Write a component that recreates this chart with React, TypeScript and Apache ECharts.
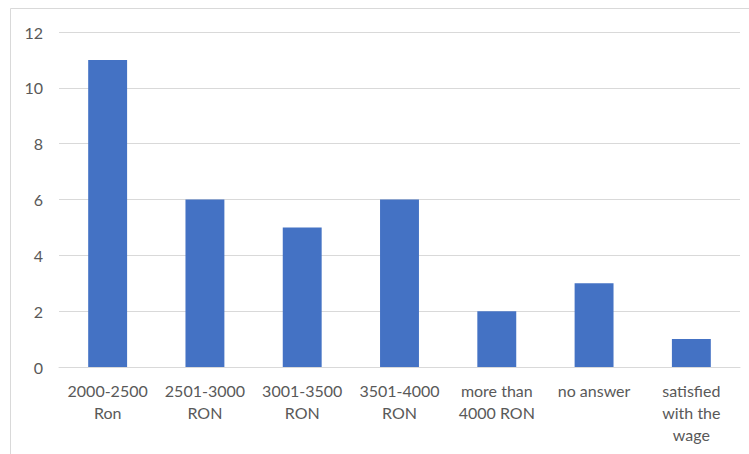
import React, { useEffect, useRef } from "react";
import * as echarts from "echarts";

const categories = [
  "2000-2500\nRon",
  "2501-3000\nRON",
  "3001-3500\nRON",
  "3501-4000\nRON",
  "more than\n4000 RON",
  "no answer",
  "satisfied\nwith the\nwage",
];
const values = [11, 6, 5, 6, 2, 3, 1];
const yMin = 0;
const yMax = 12;
const yStep = 2;

export default function App() {
  const ref = useRef<HTMLDivElement>(null);
  useEffect(() => {
    if (!ref.current) return;
    const chart = echarts.init(ref.current, undefined, { renderer: "svg" });
    const font = "Lato, 'Open Sans', sans-serif";
    chart.setOption({
      animation: false,
      backgroundColor: "#ffffff",
      graphic: [
        {
          type: "rect",
          shape: { x: 10.5, y: 8.5, width: 780, height: 480 },
          style: { fill: "none", stroke: "#d9d9d9", lineWidth: 1 },
          silent: true,
        },
      ],
      grid: { left: 59, right: 9, top: 32, bottom: 87, containLabel: false },
      xAxis: {
        type: "category",
        data: categories,
        axisTick: { show: false },
        axisLine: { show: true, lineStyle: { color: "#d9d9d9", width: 1 } },
        axisLabel: {
          color: "#595959",
          fontFamily: font,
          fontSize: 16,
          lineHeight: 22,
          margin: 12,
          interval: 0,
        },
      },
      yAxis: {
        type: "value",
        min: yMin,
        max: yMax,
        interval: yStep,
        axisLine: { show: false },
        axisTick: { show: false },
        splitLine: { lineStyle: { color: "#d9d9d9", width: 1 } },
        axisLabel: {
          color: "#595959",
          fontFamily: font,
          fontSize: 16,
          margin: 16,
        },
      },
      series: [
        {
          type: "bar",
          data: values,
          barWidth: "40%",
          itemStyle: { color: "#4472C4" },
        },
      ],
    });
    return () => chart.dispose();
  }, []);
  return (
    <div
      ref={ref}
      style={{ position: "fixed", left: 0, top: 0, width: 749, height: 454 }}
    />
  );
}
